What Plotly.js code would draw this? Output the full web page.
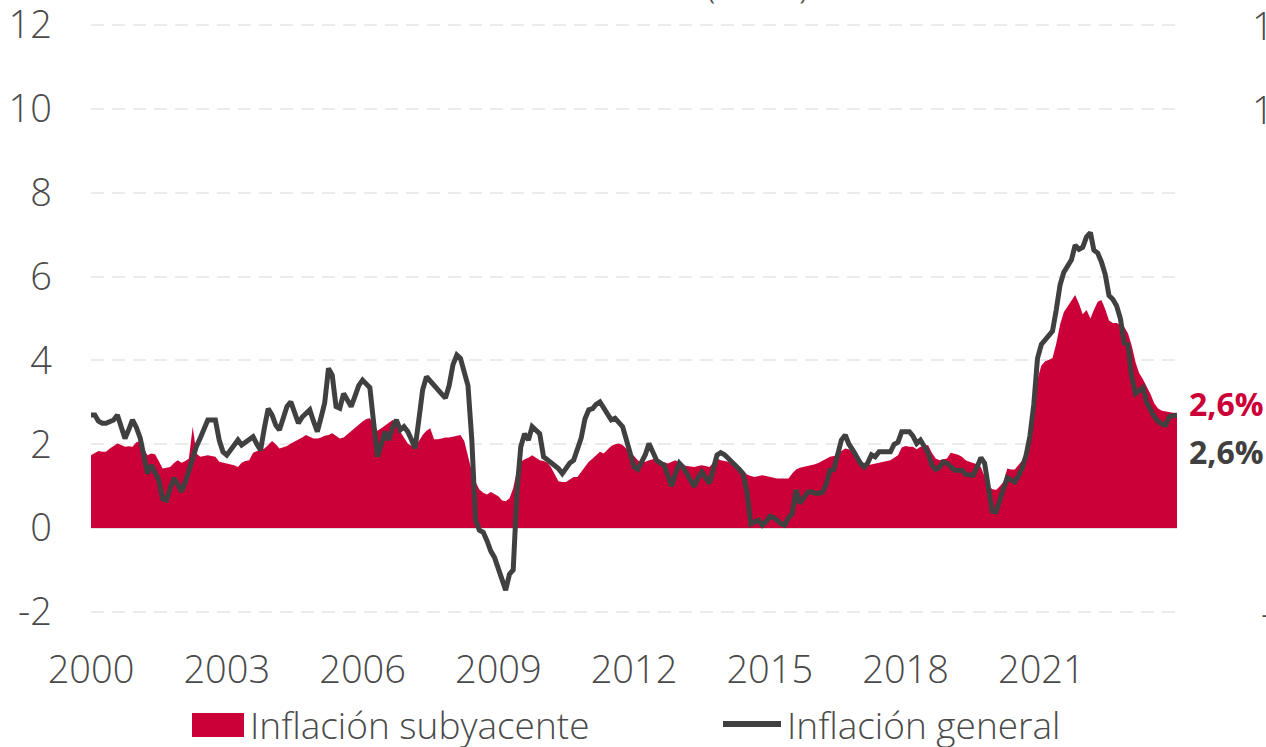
<!DOCTYPE html>
<html>
<head>
<meta charset="utf-8">
<script src="https://cdn.plot.ly/plotly-3.0.1.min.js"></script>
<style>
html,body{margin:0;padding:0;background:#fff;}
#chart{width:1266px;height:747px;}
</style>
</head>
<body>
<div id="chart"></div>
<script>
// Monthly data, Jan 2000 .. Jan 2024 (y/y %)
const startYear = 2000;

const headline = [
  2.70, 2.70, 2.55, 2.50, 2.50, 2.55, 2.58, 2.70, 2.45, 2.14, 2.35, 2.58, // 2000
  2.40, 2.15, 1.75, 1.30, 1.50, 1.35, 1.15, 0.70, 0.67, 0.95, 1.19, 1.05, // 2001
  0.87, 1.10, 1.38, 1.70, 1.95, 2.15, 2.35, 2.58, 2.58, 2.58, 2.10, 1.82, // 2002
  1.74, 1.85, 1.97, 2.10, 1.98, 2.05, 2.12, 2.18, 2.00, 1.86, 2.40, 2.85, // 2003
  2.70, 2.45, 2.34, 2.60, 2.90, 3.01, 2.75, 2.50, 2.65, 2.75, 2.82, 2.55, // 2004
  2.30, 2.65, 2.98, 3.81, 3.65, 2.90, 2.86, 3.21, 3.05, 2.90, 3.15, 3.40, // 2005
  3.53, 3.45, 3.35, 2.50, 1.70, 2.00, 2.30, 2.10, 2.40, 2.58, 2.34, 2.42, // 2006
  2.30, 2.10, 1.90, 2.60, 3.30, 3.61, 3.50, 3.40, 3.30, 3.20, 3.10, 3.40, // 2007
  3.90, 4.13, 4.05, 3.75, 3.40, 2.10, 0.19, -0.05, -0.10, -0.30, -0.55, -0.70, // 2008
  -0.95, -1.20, -1.48, -1.10, -1.00, 0.90, 1.94, 2.25, 2.10, 2.42, 2.35, 2.25, // 2009
  1.70, 1.62, 1.55, 1.50, 1.42, 1.30, 1.42, 1.55, 1.62, 1.85, 2.15, 2.60, // 2010
  2.82, 2.85, 2.95, 3.01, 2.85, 2.70, 2.58, 2.62, 2.50, 2.42, 2.10, 1.78, // 2011
  1.46, 1.40, 1.55, 1.75, 2.02, 1.80, 1.62, 1.55, 1.50, 1.25, 1.00, 1.30, // 2012
  1.55, 1.45, 1.30, 1.10, 0.99, 1.20, 1.34, 1.20, 1.07, 1.40, 1.74, 1.80, // 2013
  1.75, 1.66, 1.58, 1.50, 1.40, 1.28, 0.85, 0.10, 0.15, 0.19, 0.07, 0.15, // 2014
  0.28, 0.25, 0.19, 0.10, 0.07, 0.25, 0.35, 0.91, 0.59, 0.70, 0.85, 0.87, // 2015
  0.83, 0.83, 0.85, 1.05, 1.38, 1.40, 1.80, 2.10, 2.22, 2.00, 1.86, 1.70, // 2016
  1.55, 1.46, 1.55, 1.75, 1.70, 1.82, 1.82, 1.82, 1.82, 2.00, 2.05, 2.30, // 2017
  2.30, 2.30, 2.20, 2.02, 2.10, 1.95, 1.80, 1.50, 1.40, 1.45, 1.58, 1.55, // 2018
  1.45, 1.38, 1.38, 1.38, 1.28, 1.26, 1.26, 1.45, 1.68, 1.55, 0.90, 0.40, // 2019
  0.39, 0.65, 0.95, 1.20, 1.15, 1.10, 1.25, 1.45, 1.75, 2.20, 2.95, 4.05, // 2020
  4.38, 4.48, 4.57, 4.70, 5.20, 5.80, 6.10, 6.25, 6.40, 6.75, 6.65, 6.70, // 2021
  6.95, 7.05, 6.63, 6.56, 6.35, 6.05, 5.55, 5.46, 5.30, 5.00, 4.42, 4.37, // 2022
  3.60, 3.21, 3.29, 3.35, 3.00, 2.82, 2.66, 2.55, 2.48, 2.46, 2.66, 2.68, // 2023
  2.70                                                                    // 2024
];

const core = [
  1.74, 1.80, 1.84, 1.82, 1.82, 1.90, 1.95, 2.02, 1.98, 1.94, 1.95, 1.94, // 2000
  2.05, 2.08, 1.90, 1.74, 1.78, 1.76, 1.60, 1.42, 1.44, 1.46, 1.55, 1.62, // 2001
  1.56, 1.60, 1.66, 2.42, 1.78, 1.70, 1.72, 1.74, 1.72, 1.70, 1.58, 1.56, // 2002
  1.54, 1.52, 1.50, 1.46, 1.56, 1.60, 1.62, 1.80, 1.84, 1.86, 1.90, 1.98, // 2003
  2.08, 2.00, 1.90, 1.93, 1.96, 2.02, 2.06, 2.10, 2.16, 2.22, 2.18, 2.14, // 2004
  2.14, 2.16, 2.20, 2.22, 2.26, 2.20, 2.14, 2.16, 2.24, 2.32, 2.40, 2.48, // 2005
  2.54, 2.60, 2.62, 2.48, 2.32, 2.38, 2.44, 2.50, 2.58, 2.45, 2.30, 2.15, // 2006
  2.02, 1.96, 1.96, 2.08, 2.22, 2.32, 2.38, 2.12, 2.12, 2.14, 2.16, 2.16, // 2007
  2.18, 2.20, 2.22, 2.08, 1.70, 1.35, 1.10, 0.92, 0.84, 0.80, 0.86, 0.82, // 2008
  0.76, 0.66, 0.64, 0.71, 0.95, 1.40, 1.58, 1.64, 1.68, 1.74, 1.68, 1.62, // 2009
  1.60, 1.56, 1.46, 1.30, 1.12, 1.10, 1.10, 1.16, 1.22, 1.22, 1.35, 1.48, // 2010
  1.58, 1.66, 1.74, 1.82, 1.78, 1.86, 1.96, 2.00, 2.02, 1.98, 1.90, 1.80, // 2011
  1.72, 1.62, 1.55, 1.58, 1.62, 1.64, 1.66, 1.60, 1.56, 1.54, 1.58, 1.62, // 2012
  1.56, 1.50, 1.48, 1.47, 1.46, 1.48, 1.50, 1.48, 1.46, 1.56, 1.66, 1.62, // 2013
  1.60, 1.58, 1.54, 1.48, 1.42, 1.38, 1.28, 1.24, 1.22, 1.24, 1.26, 1.24, // 2014
  1.22, 1.20, 1.18, 1.18, 1.18, 1.18, 1.30, 1.40, 1.44, 1.46, 1.48, 1.50, // 2015
  1.52, 1.56, 1.60, 1.66, 1.70, 1.72, 1.74, 1.84, 1.90, 1.88, 1.80, 1.66, // 2016
  1.55, 1.46, 1.50, 1.52, 1.54, 1.56, 1.58, 1.60, 1.62, 1.68, 1.74, 1.92, // 2017
  1.96, 1.94, 1.94, 1.88, 1.94, 1.96, 1.98, 1.80, 1.66, 1.62, 1.64, 1.66, // 2018
  1.80, 1.78, 1.75, 1.70, 1.62, 1.58, 1.55, 1.52, 1.46, 1.25, 1.00, 0.93, // 2019
  0.91, 1.00, 1.10, 1.42, 1.40, 1.40, 1.50, 1.62, 1.85, 2.10, 2.90, 3.55, // 2020
  3.88, 3.98, 4.01, 4.06, 4.40, 4.85, 5.15, 5.28, 5.42, 5.56, 5.35, 5.10, // 2021
  5.20, 5.00, 5.20, 5.40, 5.44, 5.22, 4.95, 4.89, 4.89, 4.85, 4.80, 4.65, // 2022
  4.35, 3.95, 3.70, 3.55, 3.37, 3.20, 2.98, 2.85, 2.80, 2.78, 2.76, 2.75, // 2023
  2.74                                                                    // 2024
];

const seriesNames = ["Inflación subyacente", "Inflación general"];
const labelYears = [2000, 2003, 2006, 2009, 2012, 2015, 2018, 2021];
const tickYears = [2000, 2003, 2006, 2009, 2012, 2015, 2018, 2021, 2024];
const yTicks = [-2, 0, 2, 4, 6, 8, 10, 12];
const yTickText = ["-2", "0", "2", "4", "6", "8", "10", "12"];
const rightTicks = [12, 10, -2];
const rightTickText = ["12", "10", "-2"];
const endLabels = ["2,6%", "2,6%"];
const titleText = "(% a/a)";

const RED = "#cc0039";
const DARK = "#404040";
const TXT = "#4a4a4a";
const FONT = "'Open Sans', sans-serif";

function monthDate(i) {
  const y = startYear + Math.floor(i / 12);
  const m = (i % 12) + 1;
  return y + "-" + (m < 10 ? "0" + m : m) + "-01";
}
const dates = headline.map((_, i) => monthDate(i));
const xRange = [monthDate(0), monthDate(headline.length - 1)];
const yRange = [-2.05, 12.05];

// plot area in pixels
const W = 1266, H = 747;
const M = {l: 91, r: 89, t: 23, b: 133};
const PW = W - M.l - M.r, PH = H - M.t - M.b;
const px2x = p => (p - M.l) / PW;
const py2y = p => (H - M.b - p) / PH;

const lightFont = (size, color) => ({family: FONT, size: size, color: color, weight: 300});

const traces = [
  {
    x: dates, y: core, name: seriesNames[0], type: "scatter", mode: "lines",
    fill: "tozeroy", fillcolor: RED, line: {width: 0, color: RED},
    hoverinfo: "skip", showlegend: false
  },
  {
    x: dates, y: headline, name: seriesNames[1], type: "scatter", mode: "lines",
    line: {width: 5, color: DARK}, hoverinfo: "skip", showlegend: false
  }
];

const annotations = [];
// right-hand axis labels (right-aligned, partly beyond the page edge as in the reference)
rightTicks.forEach((v, i) => {
  annotations.push({
    xref: "paper", yref: "y", x: px2x(1297), y: v, xanchor: "right", yanchor: "middle",
    text: rightTickText[i], showarrow: false, font: lightFont(38, TXT)
  });
});
// end-value labels
annotations.push({
  xref: "paper", yref: "y", x: px2x(1187), y: 2.98, xanchor: "left", yanchor: "middle",
  text: "<b>" + endLabels[0] + "</b>", showarrow: false,
  font: {family: FONT, size: 32, color: RED, weight: 700}
});
annotations.push({
  xref: "paper", yref: "y", x: px2x(1187), y: 1.82, xanchor: "left", yanchor: "middle",
  text: "<b>" + endLabels[1] + "</b>", showarrow: false,
  font: {family: FONT, size: 32, color: DARK, weight: 700}
});
// title (mostly above the page)
annotations.push({
  xref: "paper", yref: "paper", x: px2x(757), y: py2y(-15), xanchor: "center", yanchor: "middle",
  text: titleText, showarrow: false, font: lightFont(34, TXT)
});
// legend texts
annotations.push({
  xref: "paper", yref: "paper", x: px2x(248), y: py2y(724), xanchor: "left", yanchor: "middle",
  text: seriesNames[0], showarrow: false, font: lightFont(37, TXT)
});
annotations.push({
  xref: "paper", yref: "paper", x: px2x(785), y: py2y(724), xanchor: "left", yanchor: "middle",
  text: seriesNames[1], showarrow: false, font: lightFont(37, TXT)
});

const shapes = [
  {type: "rect", xref: "paper", yref: "paper", x0: px2x(192), x1: px2x(244), y0: py2y(737), y1: py2y(713),
   fillcolor: RED, line: {width: 0}},
  {type: "line", xref: "paper", yref: "paper", x0: px2x(723), x1: px2x(781), y0: py2y(724), y1: py2y(724),
   line: {color: DARK, width: 6}}
];

const layout = {
  width: W, height: H,
  margin: M,
  paper_bgcolor: "#ffffff", plot_bgcolor: "#ffffff",
  showlegend: false,
  font: {family: FONT, color: TXT},
  xaxis: {
    type: "date", range: xRange,
    tickvals: labelYears.map(y => y + "-01-01"),
    ticktext: labelYears.map(String),
    ticks: "", showgrid: false, showline: false, zeroline: false,
    tickfont: lightFont(38, TXT), ticklabelstandoff: 30, ticklabeloverflow: "allow", fixedrange: true
  },
  xaxis2: {
    type: "date", range: xRange, overlaying: "x", anchor: "free",
    position: (0 - yRange[0]) / (yRange[1] - yRange[0]),
    tickvals: tickYears.map(y => y + "-01-01"),
    ticks: "outside", ticklen: 13, tickwidth: 2, tickcolor: "#dedede",
    showticklabels: false, showgrid: false, showline: false, zeroline: false
  },
  yaxis: {
    range: yRange, tickvals: yTicks, ticktext: yTickText,
    ticks: "", showline: false,
    showgrid: true, gridcolor: "#ebebeb", gridwidth: 2, griddash: "13px,8px",
    zeroline: true, zerolinecolor: "#e0e0e0", zerolinewidth: 2,
    tickfont: lightFont(38, TXT), ticklabelstandoff: 38, ticklabeloverflow: "allow", fixedrange: true
  },
  annotations: annotations,
  shapes: shapes
};

Plotly.newPlot("chart", traces, layout, {displayModeBar: false, staticPlot: true});
</script>
</body>
</html>
